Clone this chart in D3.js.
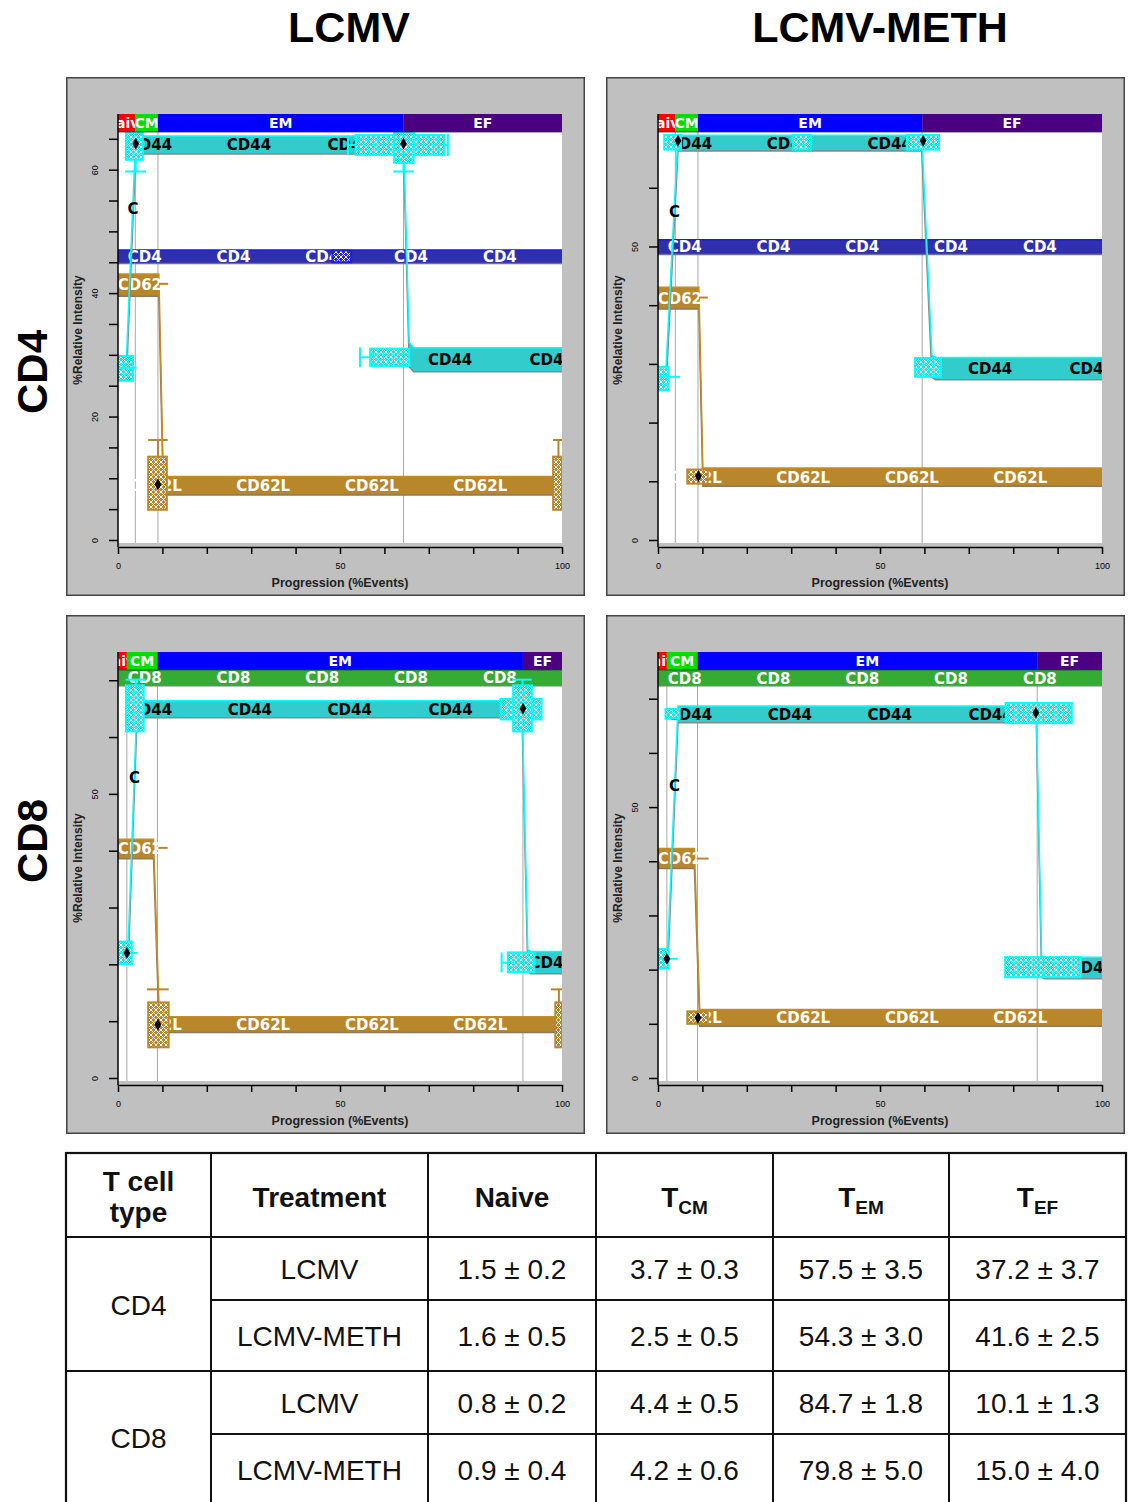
<!DOCTYPE html>
<html>
<head>
<meta charset="utf-8">
<script src="https://cdn.jsdelivr.net/npm/d3@7"></script>
<style>
  body { margin: 0; background: #fff; }
  svg { display: block; }
</style>
</head>
<body>
<div id="fig"></div>
<script>
// ---- data ----
const columnTitles = ["LCMV", "LCMV-METH"];
const rowTitles = ["CD4", "CD8"];
const stageNames = ["Naive", "CM", "EM", "EF"];
const stageColors = ["#ff0000", "#00dd00", "#0000ff", "#4b0082"];

// panels: CD4/LCMV, CD4/LCMV-METH, CD8/LCMV, CD8/LCMV-METH
const stageBreaks = [
  [0, 3.9, 9.0, 64.3, 100],
  [0, 3.9, 9.0, 59.5, 100],
  [0, 2.0, 8.9, 91.2, 100],
  [0, 2.0, 8.9, 85.4, 100]
];
const yMax = [66.1, 69.5, 71.8, 75.3];
const yTickStep = [5, 10, 10, 10];
const yTickLabels = [[0, 20, 40, 60], [0, 50], [0, 50], [0, 50]];
const xTicks = [0, 10, 20, 30, 40, 50, 60, 70, 80, 90, 100];
const xTickLabels = [0, 50, 100];

// lineage marker (flat band)
const lineageName = ["CD4", "CD4", "CD8", "CD8"];
const lineageLevel = [45.9, 49.9, 70.4, 73.8];
const lineageSpread = [2.2, 2.5, 2.7, 2.8];
const lineageLabelX = [6, 26, 46, 66, 86];
const lineageBoxes = [[[48.3, 52.5, 45.0, 46.9]], [], [], []];

// CD44 ribbon: [progression, level, spread]
const cd44Path = [
  [[0, 27.8, 3.2], [1.9, 27.8, 3.2], [4.0, 64.0, 2.9], [64.3, 64.0, 2.9], [65.6, 30.0, 3.9], [66.6, 29.2, 3.9], [100, 29.2, 3.9]],
  [[0, 27.5, 3.5], [1.8, 27.5, 3.5], [4.5, 67.6, 2.7], [59.4, 67.6, 2.7], [61.7, 29.6, 3.8], [62.5, 29.2, 3.8], [100, 29.2, 3.8]],
  [[0, 22.0, 3.5], [2.3, 22.0, 3.5], [4.3, 64.9, 3.0], [91.0, 64.9, 3.0], [92.3, 20.6, 3.9], [93.0, 20.3, 3.9], [100, 20.3, 3.9]],
  [[0, 22.0, 3.5], [2.2, 22.0, 3.5], [4.5, 67.1, 3.1], [85.2, 67.1, 3.1], [86.4, 20.6, 4.0], [87.0, 20.3, 4.0], [100, 20.3, 4.0]]
];
const cd44Labels = [
  [[3.4, 53.7, "C"], [7.2, 64.0], [29.5, 64.0], [52.2, 64.0], [74.8, 29.2], [97.7, 29.2]],
  [[3.7, 56.0, "C"], [7.2, 67.6], [29.5, 67.6], [52.2, 67.6], [74.8, 29.2], [97.7, 29.2]],
  [[3.7, 52.9, "C"], [7.2, 64.9], [29.7, 64.9], [52.2, 64.9], [74.9, 64.9], [97.7, 20.3]],
  [[3.7, 54.0, "C"], [7.2, 67.1], [29.7, 67.1], [52.2, 67.1], [74.9, 67.1], [97.7, 20.3]]
];
const cd44Boxes = [
  [[0, 3.4, 25.8, 29.8], [1.8, 5.6, 61.6, 66.0], [53.5, 73.5, 62.4, 65.6], [62.2, 66.6, 61.1, 66.0], [56.8, 65.6, 28.2, 31.0]],
  [[0, 2.4, 25.5, 29.5], [1.4, 5.2, 66.5, 69.0], [30.3, 34.4, 66.5, 69.0], [56.0, 63.3, 66.5, 69.0], [57.9, 63.7, 27.8, 31.0]],
  [[0, 3.1, 20.0, 24.0], [1.8, 5.8, 61.0, 69.1], [86.2, 95.4, 63.1, 66.7], [89.0, 93.2, 61.0, 69.1], [87.8, 93.8, 18.6, 22.1]],
  [[0, 2.4, 20.2, 23.8], [1.7, 4.9, 66.3, 68.1], [78.3, 93.2, 65.5, 69.2], [78.2, 95.3, 18.6, 22.3]]
];
// [x0, v0, x1, v1]
const cd44Whiskers = [
  [[0, 27.9, 4.2, 27.9], [4.0, 61.6, 4.0, 59.7], [1.6, 59.7, 6.3, 59.7], [64.3, 61.1, 64.3, 59.7], [62.0, 59.7, 66.6, 59.7],
   [51.8, 64.0, 53.5, 64.0], [51.8, 62.4, 51.8, 65.6], [73.5, 64.0, 74.3, 64.0], [74.3, 62.2, 74.3, 65.8],
   [54.5, 29.6, 56.8, 29.6], [54.5, 28.0, 54.5, 31.2]],
  [[0, 27.8, 5.0, 27.8]],
  [[0, 22.0, 4.3, 22.0], [4.0, 69.1, 4.0, 70.1], [1.7, 70.1, 6.2, 70.1], [91.1, 69.1, 91.1, 70.1], [88.8, 70.1, 93.2, 70.1],
   [86.4, 20.3, 87.8, 20.3], [86.4, 18.6, 86.4, 22.1]],
  [[0, 22.0, 4.4, 22.0]]
];

// CD62L ribbon
const cd62lPath = [
  [[0, 41.3, 3.6], [9.2, 41.3, 3.6], [10.2, 8.8, 3.0], [100, 8.8, 3.0]],
  [[0, 41.2, 3.7], [9.2, 41.2, 3.7], [10.1, 10.7, 3.1], [100, 10.7, 3.1]],
  [[0, 40.3, 3.4], [8.0, 40.3, 3.4], [9.3, 9.4, 2.8], [100, 9.4, 2.8]],
  [[0, 40.5, 3.7], [8.2, 40.5, 3.7], [9.4, 11.1, 3.1], [100, 11.1, 3.1]]
];
const cd62lLabels = [
  [[6, 41.3], [8.3, 8.8], [32.7, 8.8], [57.2, 8.8], [81.6, 8.8]],
  [[6, 41.2], [8.3, 10.7], [32.7, 10.7], [57.2, 10.7], [81.6, 10.7]],
  [[6, 40.3], [8.3, 9.4], [32.7, 9.4], [57.2, 9.4], [81.6, 9.4]],
  [[6, 40.5], [8.3, 11.1], [32.7, 11.1], [57.2, 11.1], [81.6, 11.1]]
];
const cd62lBoxes = [
  [[6.8, 11.0, 4.9, 13.5], [98.0, 100, 4.9, 13.5]],
  [[6.6, 11.2, 9.6, 12.0]],
  [[6.8, 11.4, 5.4, 13.3], [98.5, 100, 5.4, 13.3]],
  [[6.6, 11.2, 10.0, 12.3]]
];
const cd62lWhiskers = [
  [[9.0, 13.5, 9.0, 16.2], [6.8, 16.2, 11.2, 16.2], [99.2, 13.5, 99.2, 16.2], [98.0, 16.2, 100, 16.2], [9.2, 41.5, 11.3, 41.5]],
  [[9.2, 41.3, 11.2, 41.3]],
  [[9.0, 13.3, 9.0, 15.6], [6.5, 15.6, 11.4, 15.6], [99.3, 13.3, 99.3, 15.6], [97.5, 15.6, 100, 15.6], [9.1, 40.5, 11.2, 40.5]],
  [[8.7, 40.5, 11.4, 40.5]]
];
const medians = [
  [[4.0, 64.2], [64.3, 64.2], [9.0, 9.0]],
  [[4.5, 68.0], [59.7, 68.0], [9.1, 10.9]],
  [[2.0, 22.0], [91.2, 65.0], [9.0, 9.4]],
  [[2.0, 22.0], [85.1, 67.4], [9.0, 11.1]]
];

// table
const tableHeader = ["T cell type", "Treatment", "Naive", "CM", "EM", "EF"];
const cellTypes = ["CD4", "CD8"];
const treatments = ["LCMV", "LCMV-METH", "LCMV", "LCMV-METH"];
const naiveMean = [1.5, 1.6, 0.8, 0.9];
const naiveSd = [0.2, 0.5, 0.2, 0.4];
const cmMean = [3.7, 2.5, 4.4, 4.2];
const cmSd = [0.3, 0.5, 0.5, 0.6];
const emMean = [57.5, 54.3, 84.7, 79.8];
const emSd = [3.5, 3.0, 1.8, 5.0];
const efMean = [37.2, 41.6, 10.1, 15.0];
const efSd = [3.7, 2.5, 1.3, 4.0];

// ---- layout ----
const W = 1132, H = 1502;
const sans = "'Liberation Sans', Arial, sans-serif";
const verd = "'DejaVu Sans', Verdana, sans-serif";
const panelPos = [[66, 77], [606, 77], [66, 615], [606, 615]];
const panelW = 519, panelH = 519;
const plotL = 52, plotR = 496, stageT = 37, stageB = 55, zeroY = 463, axisY = 470;
const titleX = [349, 880];

const svg = d3.select("#fig").append("svg").attr("width", W).attr("height", H);
const defs = svg.append("defs");

function hatch(id, color) {
  const p = defs.append("pattern").attr("id", id)
    .attr("width", 5).attr("height", 5).attr("patternUnits", "userSpaceOnUse");
  p.append("rect").attr("width", 5).attr("height", 5).attr("fill", color);
  p.append("path").attr("d", "M0,0L5,5M5,0L0,5").attr("stroke", "#fff").attr("stroke-width", 1);
}
hatch("h-cyan", "#19e6e6");
hatch("h-gold", "#b8862b");
hatch("h-blue", "#2a2ad0");

// titles
svg.selectAll(".coltitle").data(columnTitles).join("text")
  .attr("x", (d, i) => titleX[i])
  .attr("y", 42)
  .attr("text-anchor", "middle")
  .style("font-family", sans).style("font-weight", "bold").style("font-size", "43px")
  .text(d => d);

svg.selectAll(".rowtitle").data(rowTitles).join("text")
  .attr("transform", (d, i) => `translate(47,${i === 0 ? 372 : 841}) rotate(-90)`)
  .attr("text-anchor", "middle")
  .style("font-family", sans).style("font-weight", "bold").style("font-size", "42px")
  .text(d => d);

function ribbon(parent, x, y, pts, st, labels, name) {
  const area = d3.area()
    .x(d => x(d[0]))
    .y0(d => y(d[1] - d[2] / 2))
    .y1(d => y(d[1] + d[2] / 2));
  parent.append("path").attr("d", area(pts)).attr("fill", st.fill);
  parent.append("path")
    .attr("d", d3.line().x(d => x(d[0])).y(d => y(d[1] - d[2] / 2))(pts))
    .attr("fill", "none").attr("stroke", st.low).attr("stroke-width", 1.5);
  parent.append("path")
    .attr("d", d3.line().x(d => x(d[0])).y(d => y(d[1] + d[2] / 2))(pts))
    .attr("fill", "none").attr("stroke", st.high).attr("stroke-width", 1.5);
  parent.selectAll(null).data(labels).join("text")
    .attr("x", d => x(d[0]))
    .attr("y", d => y(d[1]))
    .attr("dy", "0.36em")
    .attr("text-anchor", "middle")
    .style("font-family", verd).style("font-weight", "bold").style("font-size", "15px")
    .attr("fill", st.text)
    .text(d => d[2] || name);
}

function boxes(parent, x, y, list, stroke, fillId) {
  parent.selectAll(null).data(list).join("rect")
    .attr("x", d => x(d[0]))
    .attr("y", d => y(d[3]))
    .attr("width", d => x(d[1]) - x(d[0]))
    .attr("height", d => y(d[2]) - y(d[3]))
    .attr("fill", `url(#${fillId})`)
    .attr("stroke", stroke).attr("stroke-width", 2);
}

function whiskers(parent, x, y, list, stroke) {
  parent.selectAll(null).data(list).join("line")
    .attr("x1", d => x(d[0])).attr("y1", d => y(d[1]))
    .attr("x2", d => x(d[2])).attr("y2", d => y(d[3]))
    .attr("stroke", stroke).attr("stroke-width", 2);
}

function drawPanel(i) {
  const [ox, oy] = panelPos[i];
  const g = svg.append("g").attr("transform", `translate(${ox},${oy})`);

  g.append("rect")
    .attr("x", 0.75).attr("y", 0.75)
    .attr("width", panelW - 1.5).attr("height", panelH - 1.5)
    .attr("fill", "#c0c0c0").attr("stroke", "#444").attr("stroke-width", 1.5);

  const x = d3.scaleLinear().domain([0, 100]).range([plotL, plotR]);
  const y = d3.scaleLinear().domain([0, yMax[i]]).range([zeroY, stageB]);

  g.append("rect")
    .attr("x", plotL).attr("y", stageB)
    .attr("width", plotR - plotL).attr("height", zeroY + 3 - stageB)
    .attr("fill", "#fff");

  const clipId = "plotclip" + i;
  g.append("clipPath").attr("id", clipId).append("rect")
    .attr("x", plotL).attr("y", stageB)
    .attr("width", plotR - plotL).attr("height", zeroY + 3 - stageB);
  const plot = g.append("g").attr("clip-path", `url(#${clipId})`);

  const br = stageBreaks[i];
  plot.selectAll(null).data(br.slice(1, -1)).join("line")
    .attr("x1", d => x(d)).attr("x2", d => x(d))
    .attr("y1", stageB).attr("y2", zeroY + 3)
    .attr("stroke", "#a8a8a8").attr("stroke-width", 1);

  const isCD4 = lineageName[i] === "CD4";
  const linPts = [[0, lineageLevel[i], lineageSpread[i]], [100, lineageLevel[i], lineageSpread[i]]];
  ribbon(plot, x, y, linPts,
    isCD4 ? { fill: "#2f2fb0", low: "#707090", high: "#1a1ae0", text: "#fff" }
          : { fill: "#35aa35", low: "#6a8a6a", high: "#22c022", text: "#fff" },
    lineageLabelX.map(v => [v, lineageLevel[i]]), lineageName[i]);
  boxes(plot, x, y, lineageBoxes[i], "#2222cc", "h-blue");

  ribbon(plot, x, y, cd62lPath[i],
    { fill: "#b8862b", low: "#8c7a5c", high: "#c58d20", text: "#fff" },
    cd62lLabels[i], "CD62L");

  ribbon(plot, x, y, cd44Path[i],
    { fill: "#33cccc", low: "#888", high: "#00ffff", text: "#000" },
    cd44Labels[i], "CD44");

  boxes(plot, x, y, cd62lBoxes[i], "#b8862b", "h-gold");
  whiskers(plot, x, y, cd62lWhiskers[i], "#b8862b");
  boxes(plot, x, y, cd44Boxes[i], "#00ffff", "h-cyan");
  whiskers(plot, x, y, cd44Whiskers[i], "#00ffff");

  plot.selectAll(null).data(medians[i]).join("path")
    .attr("transform", d => `translate(${x(d[0])},${y(d[1])})`)
    .attr("d", d3.symbol(d3.symbolDiamond, 40))
    .attr("fill", "#000");

  // stage bar
  stageNames.forEach((name, k) => {
    const x0 = x(br[k]), x1 = x(br[k + 1]);
    const cid = `stclip${i}_${k}`;
    g.append("clipPath").attr("id", cid).append("rect")
      .attr("x", x0).attr("y", stageT).attr("width", x1 - x0).attr("height", stageB - stageT);
    g.append("rect")
      .attr("x", x0).attr("y", stageT).attr("width", x1 - x0).attr("height", stageB - stageT)
      .attr("fill", stageColors[k]);
    g.append("text")
      .attr("clip-path", `url(#${cid})`)
      .attr("x", (x0 + x1) / 2).attr("y", (stageT + stageB) / 2)
      .attr("dy", "0.36em").attr("text-anchor", "middle")
      .style("font-family", verd).style("font-weight", "bold").style("font-size", "14px")
      .attr("fill", "#fff")
      .text(name);
  });
  g.append("line")
    .attr("x1", plotL).attr("x2", plotR).attr("y1", stageB).attr("y2", stageB)
    .attr("stroke", "#333").attr("stroke-width", 0.8);

  // axes
  const xa = g.append("g")
    .attr("transform", `translate(0,${axisY})`)
    .call(d3.axisBottom(x).tickValues(xTicks).tickSize(7).tickPadding(9).tickSizeOuter(0)
      .tickFormat(d => xTickLabels.includes(d) ? d : ""));
  xa.selectAll("path,line").attr("stroke", "#000").attr("stroke-width", 1.5);
  xa.selectAll("text").style("font-family", sans).style("font-size", "9px").attr("fill", "#000");

  const yTicks = d3.range(0, yMax[i] + 1e-6, yTickStep[i]);
  const ya = g.append("g")
    .attr("transform", `translate(${plotL},0)`)
    .call(d3.axisLeft(y).tickValues(yTicks).tickSize(9)
      .tickFormat(d => yTickLabels[i].includes(d) ? d : ""));
  ya.select(".domain").remove();
  ya.selectAll("line").attr("stroke", "#000").attr("stroke-width", 1.5);
  ya.selectAll("text")
    .attr("x", 0).attr("y", -23).attr("dy", "0.35em")
    .attr("transform", "rotate(-90)")
    .attr("text-anchor", "middle")
    .style("font-family", sans).style("font-size", "9px").attr("fill", "#000");
  g.append("line")
    .attr("x1", plotL).attr("x2", plotL).attr("y1", stageT).attr("y2", axisY)
    .attr("stroke", "#000").attr("stroke-width", 1.5);

  g.append("text")
    .attr("x", (plotL + plotR) / 2).attr("y", 510)
    .attr("text-anchor", "middle")
    .style("font-family", sans).style("font-weight", "bold").style("font-size", "12.5px")
    .attr("fill", "#222")
    .text("Progression (%Events)");
  g.append("text")
    .attr("transform", "translate(16,253) rotate(-90)")
    .attr("text-anchor", "middle")
    .style("font-family", sans).style("font-weight", "bold").style("font-size", "12px")
    .attr("fill", "#222")
    .text("%Relative Intensity");
}

for (let i = 0; i < 4; i++) drawPanel(i);

// ---- table ----
const colX = [66, 211, 428, 596, 773, 949, 1126];
const rowY = [1153, 1237, 1300, 1371, 1434, 1505];
const tbl = svg.append("g");
const lineCol = "#111";

tbl.append("rect")
  .attr("x", colX[0]).attr("y", rowY[0])
  .attr("width", colX[6] - colX[0]).attr("height", rowY[5] - rowY[0])
  .attr("fill", "#fff").attr("stroke", lineCol).attr("stroke-width", 2.2);
tbl.selectAll(null).data(colX.slice(1, -1)).join("line")
  .attr("x1", d => d).attr("x2", d => d).attr("y1", rowY[0]).attr("y2", rowY[5])
  .attr("stroke", lineCol).attr("stroke-width", 2);
tbl.selectAll(null).data([1, 2, 3, 4]).join("line")
  .attr("x1", d => (d === 2 || d === 4) ? colX[1] : colX[0]).attr("x2", colX[6])
  .attr("y1", d => rowY[d]).attr("y2", d => rowY[d])
  .attr("stroke", lineCol).attr("stroke-width", 2);

const colMid = k => (colX[k] + colX[k + 1]) / 2;
const hdr = (x, yy, t) => tbl.append("text")
  .attr("x", x).attr("y", yy).attr("text-anchor", "middle")
  .style("font-family", sans).style("font-weight", "bold").style("font-size", "28px")
  .attr("fill", "#111").text(t);

const tcParts = tableHeader[0].split(" ");
hdr(colMid(0), 1191, tcParts[0] + " " + tcParts[1]);
hdr(colMid(0), 1222, tcParts[2]);
hdr(colMid(1), 1207, tableHeader[1]);
hdr(colMid(2), 1207, tableHeader[2]);
[3, 4, 5].forEach(k => {
  const t = hdr(colMid(k), 1207, "T");
  t.append("tspan").attr("dy", 7).style("font-size", "19px").text(tableHeader[k]);
});

const body = (x, yy, t) => tbl.append("text")
  .attr("x", x).attr("y", yy).attr("text-anchor", "middle")
  .style("font-family", sans).style("font-size", "28px")
  .attr("fill", "#111").text(t);

body(colMid(0), 1315, cellTypes[0]);
body(colMid(0), 1448, cellTypes[1]);
const fmt = (m, s) => `${m.toFixed(1)} ± ${s.toFixed(1)}`;
treatments.forEach((tr, r) => {
  const yy = (rowY[r + 1] + rowY[r + 2]) / 2 + 10;
  body(colMid(1), yy, tr);
  body(colMid(2), yy, fmt(naiveMean[r], naiveSd[r]));
  body(colMid(3), yy, fmt(cmMean[r], cmSd[r]));
  body(colMid(4), yy, fmt(emMean[r], emSd[r]));
  body(colMid(5), yy, fmt(efMean[r], efSd[r]));
});
</script>
</body>
</html>
